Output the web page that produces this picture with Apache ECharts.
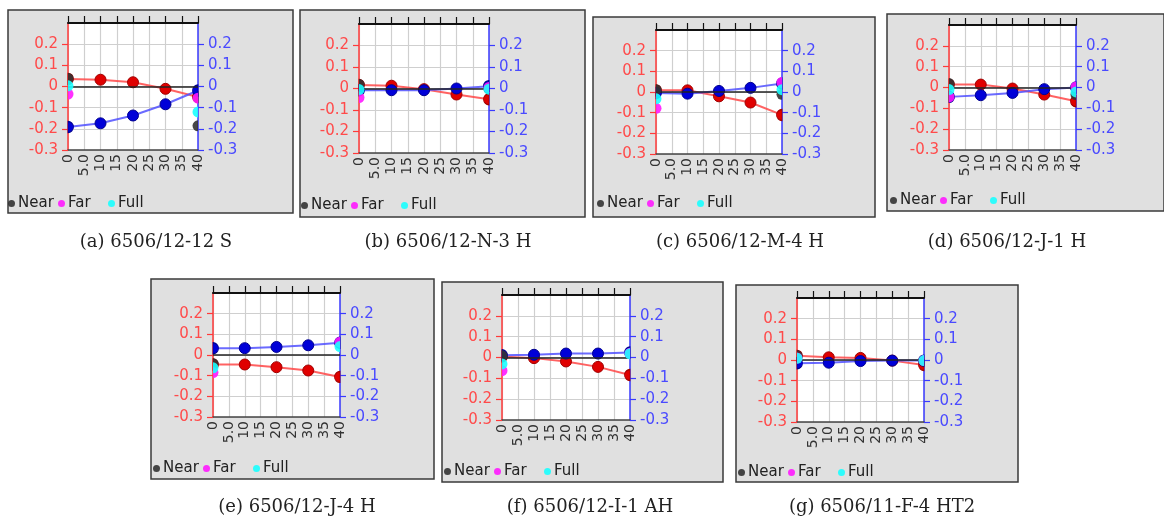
<!DOCTYPE html>
<html>
<head>
<meta charset="utf-8">
<script src="https://cdn.jsdelivr.net/npm/echarts@6/dist/echarts.min.js"></script>
<style>
  html, body { margin: 0; padding: 0; background: #ffffff; }
  #chart { width: 1164px; height: 521px; }
</style>
</head>
<body>
<div id="chart"></div>
<script>
// ---------- DATA ----------
const stations = [0, 10, 20, 30, 40];
const endStations = [0, 40];
const xTickLabels = ['0', '5.0', '10', '15', '20', '25', '30', '35', '40'];
const legendNames = ['Near', 'Far', 'Full'];
const captions = [
  '(a) 6506/12-12 S',
  '(b) 6506/12-N-3 H',
  '(c) 6506/12-M-4 H',
  '(d) 6506/12-J-1 H',
  '(e) 6506/12-J-4 H',
  '(f) 6506/12-I-1 AH',
  '(g) 6506/11-F-4 HT2'
];

// red series (left axis) and blue series (right axis) at stations 0..40
const redA = [0.036, 0.032, 0.020, -0.011, -0.050];
const blueA = [-0.191, -0.174, -0.137, -0.084, -0.019];
const redB = [0.016, 0.013, -0.003, -0.028, -0.050];
const blueB = [-0.008, -0.008, -0.008, 0.000, 0.011];
const redC = [0.008, 0.008, -0.021, -0.051, -0.111];
const blueC = [-0.005, -0.008, 0.005, 0.020, 0.041];
const redD = [0.014, 0.014, -0.005, -0.034, -0.066];
const blueD = [-0.045, -0.037, -0.026, -0.008, 0.000];
const redE = [-0.046, -0.046, -0.059, -0.075, -0.106];
const blueE = [0.033, 0.033, 0.039, 0.047, 0.059];
const redF = [0.005, -0.003, -0.019, -0.045, -0.084];
const blueF = [0.011, 0.013, 0.019, 0.019, 0.024];
const redG = [0.020, 0.013, 0.010, -0.003, -0.024];
const blueG = [-0.016, -0.013, -0.005, -0.003, -0.003];

// end-point readings (station 0 and station 40); null = not visible
const nearA = [0.038, -0.186], farA = [-0.036, -0.055], fullA = [0.003, -0.120];
const nearB = [0.019, -0.002], farB = [-0.042, 0.005], fullB = [-0.005, -0.003];
const nearC = [0.011, -0.011], farC = [-0.079, 0.046], fullC = [-0.033, 0.011];
const nearD = [0.019, -0.034], farD = [-0.045, 0.003], fullD = [-0.010, -0.021];
const nearE = [-0.042, null], farE = [-0.085, 0.062], fullE = [-0.062, 0.041];
const nearF = [0.008, null], farF = [-0.063, 0.020], fullF = [-0.031, 0.018];
const nearG = [0.020, -0.005], farG = [0.010, -0.003], fullG = [0.008, -0.003];

const panelData = [
  { red: redA, blue: blueA, near: nearA, far: farA, full: fullA },
  { red: redB, blue: blueB, near: nearB, far: farB, full: fullB },
  { red: redC, blue: blueC, near: nearC, far: farC, full: fullC },
  { red: redD, blue: blueD, near: nearD, far: farD, full: fullD },
  { red: redE, blue: blueE, near: nearE, far: farE, full: fullE },
  { red: redF, blue: blueF, near: nearF, far: farF, full: fullF },
  { red: redG, blue: blueG, near: nearG, far: farG, full: fullG }
];

// ---------- LAYOUT ----------
const layout = [
  { grid: [68, 23, 130, 127], box: [8, 10, 285, 203], legend: [8, 205], cap: [151, 239] },
  { grid: [359, 24, 130, 129], box: [300, 10, 285, 207], legend: [301, 207], cap: [443, 239] },
  { grid: [656, 30, 126, 124], box: [593, 17, 282, 200], legend: [597, 205], cap: [735, 239] },
  { grid: [949, 25, 127, 125], box: [887, 14, 277, 197], legend: [890, 202], cap: [1002, 239] },
  { grid: [213, 293, 127, 124], box: [151, 279, 283, 200], legend: [153, 470], cap: [292, 504] },
  { grid: [502, 295, 128, 125], box: [442, 282, 281, 200], legend: [444, 473], cap: [585, 504] },
  { grid: [797, 298, 127, 124], box: [736, 285, 282, 197], legend: [738, 474], cap: [877, 504] }
];

const RED = '#ff3a3a', BLUE = '#3a3aff';
const FONT = 'DejaVu Sans';
const HALF_R = 'path://M0,0 A5,5 0 0 1 0,10 Z';   // right half disc (clipped at left edge)
const HALF_L = 'path://M5,0 A5,5 0 0 0 5,10 Z';   // left half disc (clipped at right edge)

function edgeItem(x, y, size, xmax) {
  if (y === null) return null;
  if (x === 0) return { value: [x, y], symbol: HALF_R, symbolSize: [size / 2, size], symbolOffset: [size / 4, 0] };
  if (x === xmax) return { value: [x, y], symbol: HALF_L, symbolSize: [size / 2, size], symbolOffset: [-size / 4, 0] };
  return { value: [x, y] };
}
const clipData = (xs, ys, size) => xs.map((x, i) => edgeItem(x, ys[i], size, 40)).filter(d => d !== null);

const grids = [], xAxes = [], yAxes = [], series = [], legends = [], titles = [], graphics = [];

layout.forEach((L, i) => {
  const [gl, gt, gw, gh] = L.grid;
  grids.push({ left: gl, top: gt, width: gw, height: gh, show: true, backgroundColor: '#ffffff', borderWidth: 0 });

  xAxes.push({
    type: 'value', gridIndex: i, position: 'bottom', min: 0, max: 40, interval: 5,
    axisLine: { show: true, onZero: false, lineStyle: { color: '#444', width: 1.5 } },
    axisTick: { show: false },
    axisLabel: {
      rotate: 90, margin: 4, fontSize: 14, color: '#333', fontFamily: FONT,
      formatter: v => xTickLabels[Math.round(v / 5)]
    },
    splitLine: { show: true, lineStyle: { color: '#cfcfcf', width: 1.2 } }
  });
  xAxes.push({
    type: 'value', gridIndex: i, position: 'top', min: 0, max: 40, interval: 5,
    axisLine: { show: true, onZero: false, lineStyle: { color: '#111', width: 2 } },
    axisTick: { show: true, inside: false, length: 7, lineStyle: { color: '#111', width: 1.2 } },
    axisLabel: { show: false },
    splitLine: { show: false }
  });
  const yFmt = v => (Math.abs(v) < 1e-9 ? '0' : String(+v.toFixed(1)));
  yAxes.push({
    type: 'value', gridIndex: i, position: 'left', min: -0.3, max: 0.3, interval: 0.1,
    axisLine: { show: true, onZero: false, lineStyle: { color: RED, width: 1.5 } },
    axisTick: { show: true, inside: false, length: 6, lineStyle: { color: RED, width: 1.2 } },
    axisLabel: { showMaxLabel: false, margin: 10, fontSize: 15, color: '#ff4a4a', fontFamily: FONT, formatter: yFmt },
    splitLine: { show: true, lineStyle: { color: '#cfcfcf', width: 1.2 } }
  });
  yAxes.push({
    type: 'value', gridIndex: i, position: 'right', min: -0.3, max: 0.3, interval: 0.1,
    axisLine: { show: true, onZero: false, lineStyle: { color: BLUE, width: 1.5 } },
    axisTick: { show: true, inside: false, length: 6, lineStyle: { color: BLUE, width: 1.2 } },
    axisLabel: { showMaxLabel: false, margin: 10, fontSize: 15, color: '#4a4aff', fontFamily: FONT, formatter: yFmt },
    splitLine: { show: false }
  });

  const P = panelData[i];
  series.push({
    name: 'Left', type: 'line', xAxisIndex: 2 * i, yAxisIndex: 2 * i,
    data: clipData(stations, P.red, 11), symbol: 'circle', symbolSize: 11, z: 3,
    lineStyle: { color: 'rgba(255,70,70,0.85)', width: 2 },
    itemStyle: { color: '#e00000', borderColor: '#a00000', borderWidth: 1 },
    markLine: {
      silent: true, symbol: 'none', label: { show: false }, animation: false,
      lineStyle: { color: '#222', width: 1.5, type: 'solid' },
      data: [{ yAxis: 0 }]
    },
    animation: false
  });
  series.push({
    name: 'Right', type: 'line', xAxisIndex: 2 * i, yAxisIndex: 2 * i + 1,
    data: clipData(stations, P.blue, 11), symbol: 'circle', symbolSize: 11, z: 4,
    lineStyle: { color: 'rgba(80,80,255,0.85)', width: 2 },
    itemStyle: { color: '#0000d8', borderColor: '#000090', borderWidth: 1 },
    animation: false
  });
  const ends = [['Near', P.near, '#333333'], ['Far', P.far, '#ff1aff'], ['Full', P.full, '#1affff']];
  ends.forEach(([nm, vals, col], k) => {
    series.push({
      name: nm, type: 'scatter', xAxisIndex: 2 * i, yAxisIndex: 2 * i,
      data: clipData(endStations, vals, 11), symbol: 'circle', symbolSize: 11, z: 5 + k,
      itemStyle: { color: col, opacity: 0.9 }, animation: false
    });
  });

  legendNames.forEach((nm, k) => {
    legends.push({
      data: [nm], left: L.legend[0] + k * 50, top: L.legend[1] - 9, orient: 'horizontal',
      icon: 'circle', itemWidth: 7, itemHeight: 7, itemGap: 0, padding: 0,
      selectedMode: false,
      textStyle: { fontSize: 15, color: '#222', fontFamily: FONT, padding: [0, 0, 0, -2] }
    });
  });

  titles.push({
    text: captions[i], left: L.cap[0], top: L.cap[1] - 11, textAlign: 'center',
    textStyle: { fontFamily: 'DejaVu Serif', fontWeight: 'normal', fontSize: 18, color: '#222' }
  });

  const [bx, by, bw, bh] = L.box;
  graphics.push({
    type: 'rect', z: -10, silent: true,
    shape: { x: bx, y: by, width: bw, height: bh },
    style: { fill: '#e0e0e0', stroke: '#3a3a3a', lineWidth: 1.5 }
  });
});

const chart = echarts.init(document.getElementById('chart'), null, { renderer: 'canvas' });
chart.setOption({
  backgroundColor: '#ffffff',
  animation: false,
  title: titles,
  legend: legends,
  grid: grids,
  xAxis: xAxes,
  yAxis: yAxes,
  series: series,
  graphic: { elements: graphics }
});
</script>
</body>
</html>
